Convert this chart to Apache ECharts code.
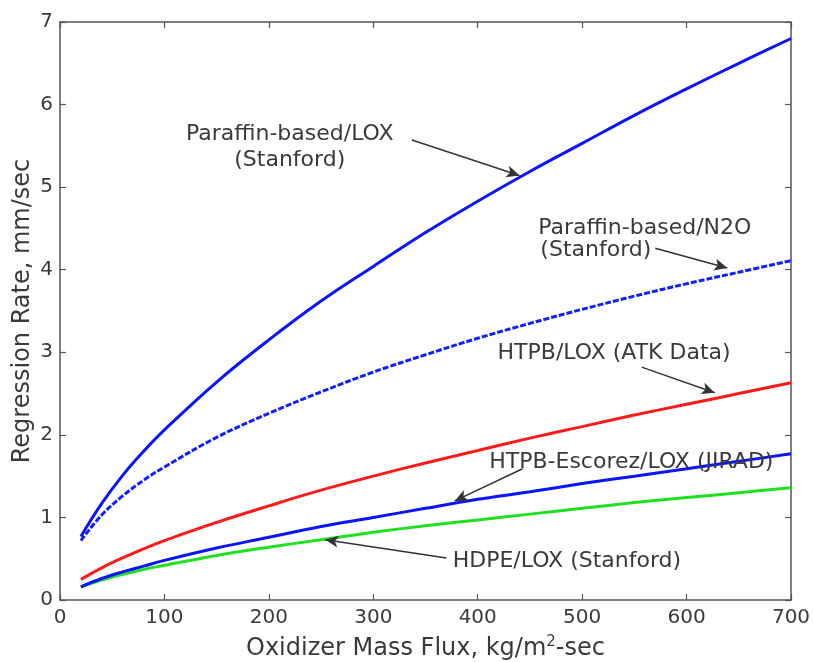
<!DOCTYPE html>
<html><head><meta charset="utf-8">
<script src="https://cdn.jsdelivr.net/npm/echarts@6/dist/echarts.min.js"></script>
<style>html,body{margin:0;padding:0;background:#fff}#c{width:814px;height:662px}</style>
</head><body><div id="c"></div>
<script>
// Oxidizer mass flux (kg/m^2-sec)
const flux = [20, 40, 60, 80, 100, 150, 200, 250, 300, 350, 400, 450, 500, 550, 600, 650, 700];
// Regression rate (mm/sec)
const paraffinLOX = [0.77, 1.17, 1.51, 1.80, 2.06, 2.64, 3.15, 3.62, 4.04, 4.45, 4.83, 5.19, 5.53, 5.87, 6.19, 6.50, 6.80];
const paraffinN2O = [0.72, 1.03, 1.26, 1.45, 1.61, 1.97, 2.26, 2.52, 2.76, 2.97, 3.17, 3.35, 3.52, 3.68, 3.83, 3.97, 4.11];
const htpbLOX     = [0.25, 0.39, 0.51, 0.62, 0.72, 0.94, 1.14, 1.33, 1.50, 1.66, 1.81, 1.96, 2.10, 2.24, 2.37, 2.50, 2.63];
const htpbEscorez = [0.16, 0.26, 0.34, 0.41, 0.48, 0.63, 0.76, 0.89, 1.00, 1.11, 1.22, 1.31, 1.41, 1.50, 1.59, 1.68, 1.77];
const hdpeLOX     = [0.16, 0.24, 0.31, 0.37, 0.42, 0.54, 0.64, 0.73, 0.82, 0.90, 0.97, 1.04, 1.11, 1.18, 1.24, 1.30, 1.36];
const xTicks = [0, 100, 200, 300, 400, 500, 600, 700];
const yTicks = [0, 1, 2, 3, 4, 5, 6, 7];

// Annotation arrows: [startFlux, startRate, endFlux, endRate]
const arrows = [
  [337, 5.57, 440, 5.14],
  [570, 4.26, 639, 4.02],
  [557, 2.82, 627, 2.51],
  [443, 1.59, 378, 1.20],
  [370, 0.51, 254, 0.73]
];
// Annotation texts: [text, flux, rate, align]
const notes = [
  ['Paraffin-based/LOX', 220, 5.64, 'center'],
  ['(Stanford)', 220, 5.33, 'center'],
  ['Paraffin-based/N2O', 458, 4.50, 'left'],
  ['(Stanford)', 460, 4.24, 'left'],
  ['HTPB/LOX (ATK Data)', 419, 2.99, 'left'],
  ['HTPB-Escorez/LOX (JIRAD)', 411, 1.67, 'left'],
  ['HDPE/LOX (Stanford)', 376, 0.47, 'left']
];

const FONT = 'DejaVu Sans';
const TXT = '#3a3a3a';
const AX = '#555';
const pairs = arr => flux.map((g, i) => [g, arr[i]]);

const chart = echarts.init(document.getElementById('c'));
function axisBase(extra) {
  return Object.assign({
    type: 'value',
    axisLine: { show: true, onZero: false, lineStyle: { color: AX, width: 1.5 } },
    axisTick: { show: true, inside: true, length: 6, lineStyle: { color: AX, width: 1.2 } },
    splitLine: { show: false }
  }, extra);
}
function line(name, arr, color, dashed) {
  return {
    name, type: 'line', data: pairs(arr), smooth: 0.4, showSymbol: false,
    lineStyle: { color, width: 3, type: dashed ? [6, 2] : 'solid' },
    z: 3, silent: true
  };
}
const option = {
  animation: false,
  backgroundColor: '#fff',
  grid: { left: 60, right: 23, top: 22, bottom: 62, containLabel: false, outerBoundsMode: 'none' },
  xAxis: [
    axisBase({
      min: 0, max: 700, interval: 100, position: 'bottom',
      axisLabel: { color: TXT, fontSize: 20, fontFamily: FONT, margin: 8,
        formatter: v => xTicks.includes(v) ? String(v) : '' },
      name: 'Oxidizer Mass Flux, kg/m{s|2}-sec',
      nameLocation: 'middle', nameGap: 35,
      nameTextStyle: { color: TXT, fontSize: 24, fontFamily: FONT,
        rich: { s: { fontSize: 15, fontFamily: FONT, color: TXT, verticalAlign: 'top', padding: [0, 0, 12, 0] } } }
    }),
    axisBase({
      min: 0, max: 700, interval: 100, position: 'top',
      axisLabel: { show: false }
    })
  ],
  yAxis: [
    axisBase({
      min: 0, max: 7, interval: 1, position: 'left',
      axisLabel: { color: TXT, fontSize: 20, fontFamily: FONT, margin: 7, padding: [0, 0, 9, 0],
        formatter: v => yTicks.includes(v) ? String(v) : '' },
      name: 'Regression Rate, mm/sec',
      nameLocation: 'middle', nameGap: 25, nameMoveOverlap: false,
      nameTextStyle: { color: TXT, fontSize: 24, fontFamily: FONT }
    }),
    axisBase({
      min: 0, max: 7, interval: 1, position: 'right',
      axisLabel: { show: false }
    })
  ],
  series: [
    line('Paraffin-based/LOX', paraffinLOX, '#0a14ff', false),
    line('Paraffin-based/N2O', paraffinN2O, '#1020ff', true),
    line('HTPB/LOX', htpbLOX, '#ff1a1a', false),
    line('HDPE/LOX', hdpeLOX, '#20e020', false),
    line('HTPB-Escorez/LOX', htpbEscorez, '#0a14ff', false),
    {
      type: 'line', data: [], silent: true, z: 5,
      markLine: {
        silent: true, animation: false,
        symbol: ['none', 'arrow'], symbolSize: [9, 13],
        lineStyle: { color: '#333', width: 1.5, type: 'solid' },
        label: { show: false },
        data: arrows.map(a => [{ coord: [a[0], a[1]] }, { coord: [a[2], a[3]] }])
      }
    }
  ]
};
chart.setOption(option);
const g = notes.map(n => {
  const p = chart.convertToPixel({ gridIndex: 0 }, [n[1], n[2]]);
  return {
    type: 'text', x: p[0], y: p[1], z: 10,
    style: { text: n[0], fill: TXT, font: '22px "' + FONT + '"', textAlign: n[3], textVerticalAlign: 'middle' }
  };
});
chart.setOption({ graphic: g });
</script></body></html>
